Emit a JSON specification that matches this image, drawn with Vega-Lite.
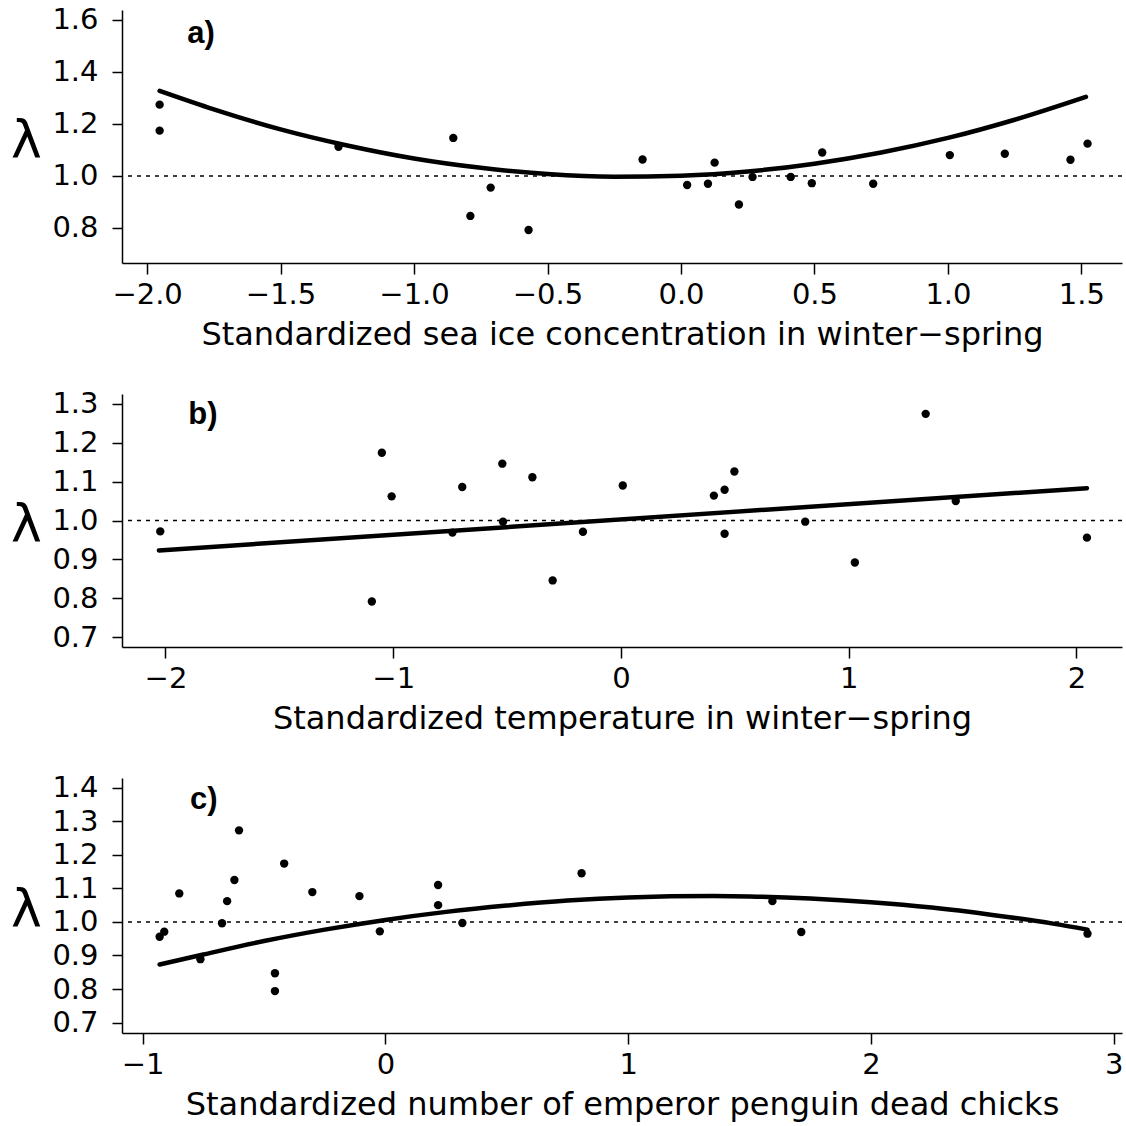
{
  "$schema": "https://vega.github.io/schema/vega-lite/v6.json",
  "background": "white",
  "padding": {"left": 10, "top": 5, "right": 0, "bottom": 5},
  "bounds": "flush",
  "spacing": 131,
  "datasets": {
    "pa": [
      {"x": -1.953, "lambda": 1.274}, {"x": -1.953, "lambda": 1.174}, {"x": -1.283, "lambda": 1.112},
      {"x": -0.853, "lambda": 1.146}, {"x": -0.789, "lambda": 0.846}, {"x": -0.713, "lambda": 0.955},
      {"x": -0.571, "lambda": 0.792}, {"x": -0.144, "lambda": 1.063}, {"x": 0.023, "lambda": 0.965},
      {"x": 0.101, "lambda": 0.970}, {"x": 0.126, "lambda": 1.051}, {"x": 0.217, "lambda": 0.890},
      {"x": 0.268, "lambda": 0.996}, {"x": 0.411, "lambda": 0.996}, {"x": 0.490, "lambda": 0.972},
      {"x": 0.529, "lambda": 1.090}, {"x": 0.720, "lambda": 0.970}, {"x": 1.007, "lambda": 1.080},
      {"x": 1.213, "lambda": 1.085}, {"x": 1.459, "lambda": 1.062}, {"x": 1.523, "lambda": 1.124}
    ],
    "ca": [
      {"x": -1.953, "lambda": 1.327}, {"x": -1.75, "lambda": 1.256}, {"x": -1.5, "lambda": 1.179},
      {"x": -1.25, "lambda": 1.117}, {"x": -1.0, "lambda": 1.067}, {"x": -0.75, "lambda": 1.031},
      {"x": -0.5, "lambda": 1.007}, {"x": -0.25, "lambda": 0.997}, {"x": 0.0, "lambda": 1.001},
      {"x": 0.25, "lambda": 1.017}, {"x": 0.5, "lambda": 1.047}, {"x": 0.75, "lambda": 1.090},
      {"x": 1.0, "lambda": 1.146}, {"x": 1.25, "lambda": 1.216}, {"x": 1.517, "lambda": 1.304}
    ],
    "pb": [
      {"x": -2.023, "lambda": 0.972}, {"x": -1.094, "lambda": 0.792}, {"x": -1.050, "lambda": 1.174},
      {"x": -1.007, "lambda": 1.062}, {"x": -0.740, "lambda": 0.969}, {"x": -0.697, "lambda": 1.086},
      {"x": -0.521, "lambda": 1.146}, {"x": -0.518, "lambda": 0.997}, {"x": -0.389, "lambda": 1.111},
      {"x": -0.300, "lambda": 0.846}, {"x": -0.167, "lambda": 0.971}, {"x": 0.008, "lambda": 1.090},
      {"x": 0.408, "lambda": 1.064}, {"x": 0.455, "lambda": 1.079}, {"x": 0.455, "lambda": 0.966},
      {"x": 0.498, "lambda": 1.126}, {"x": 0.809, "lambda": 0.997}, {"x": 1.027, "lambda": 0.892},
      {"x": 1.338, "lambda": 1.274}, {"x": 1.470, "lambda": 1.050}, {"x": 2.046, "lambda": 0.956}
    ],
    "cb": [
      {"x": -2.029, "lambda": 0.923}, {"x": 2.046, "lambda": 1.083}
    ],
    "pc": [
      {"x": -0.930, "lambda": 0.956}, {"x": -0.911, "lambda": 0.971}, {"x": -0.849, "lambda": 1.085},
      {"x": -0.762, "lambda": 0.889}, {"x": -0.673, "lambda": 0.996}, {"x": -0.652, "lambda": 1.062},
      {"x": -0.622, "lambda": 1.125}, {"x": -0.603, "lambda": 1.273}, {"x": -0.455, "lambda": 0.847},
      {"x": -0.455, "lambda": 0.794}, {"x": -0.417, "lambda": 1.174}, {"x": -0.301, "lambda": 1.089},
      {"x": -0.107, "lambda": 1.077}, {"x": -0.023, "lambda": 0.972}, {"x": 0.217, "lambda": 1.110},
      {"x": 0.217, "lambda": 1.050}, {"x": 0.317, "lambda": 0.997}, {"x": 0.808, "lambda": 1.145},
      {"x": 1.594, "lambda": 1.062}, {"x": 1.713, "lambda": 0.970}, {"x": 2.892, "lambda": 0.965}
    ],
    "cc": [
      {"x": -0.930, "lambda": 0.873}, {"x": -0.75, "lambda": 0.903}, {"x": -0.5, "lambda": 0.943},
      {"x": -0.25, "lambda": 0.977}, {"x": 0.0, "lambda": 1.006}, {"x": 0.25, "lambda": 1.030},
      {"x": 0.5, "lambda": 1.049}, {"x": 0.75, "lambda": 1.064}, {"x": 1.0, "lambda": 1.073},
      {"x": 1.35, "lambda": 1.077}, {"x": 1.5, "lambda": 1.076}, {"x": 1.75, "lambda": 1.070},
      {"x": 2.0, "lambda": 1.059}, {"x": 2.25, "lambda": 1.043}, {"x": 2.5, "lambda": 1.021},
      {"x": 2.75, "lambda": 0.995}, {"x": 2.892, "lambda": 0.977}
    ],
    "ref": [{"lambda": 1.0}],
    "la": [{"x": -1.85, "lambda": 1.545, "label": "a)"}],
    "lb": [{"x": -1.90, "lambda": 1.271, "label": "b)"}],
    "lc": [{"x": -0.805, "lambda": 1.363, "label": "c)"}]
  },
  "vconcat": [
    {
      "width": 1000,
      "height": 253,
      "layer": [
        {
          "data": {"name": "ref"},
          "mark": {"type": "rule", "color": "black", "strokeWidth": 1.5, "strokeDash": [4, 5]},
          "encoding": {"y": {"field": "lambda", "type": "quantitative", "scale": {"domain": [0.665, 1.638], "nice": false, "zero": false},
            "axis": {"title": "λ", "values": [0.8, 1.0, 1.2, 1.4, 1.6], "tickCount": 30, "format": ".1f", "titleY": 130, "labelOverlap": false}}}
        },
        {
          "data": {"name": "ca"},
          "mark": {"type": "line", "color": "black", "strokeWidth": 4.5, "interpolate": "monotone", "strokeCap": "round"},
          "encoding": {
            "x": {"field": "x", "type": "quantitative", "scale": {"domain": [-2.094, 1.652], "nice": false, "zero": false},
              "axis": {"title": "Standardized sea ice concentration in winter−spring", "values": [-2, -1.5, -1, -0.5, 0, 0.5, 1, 1.5], "tickCount": 30, "format": ".1f", "labelOverlap": false}},
            "y": {"field": "lambda", "type": "quantitative"}
          }
        },
        {
          "data": {"name": "pa"},
          "mark": {"type": "point", "shape": "circle", "filled": true, "color": "black", "opacity": 1, "size": 70},
          "encoding": {
            "x": {"field": "x", "type": "quantitative"},
            "y": {"field": "lambda", "type": "quantitative"}
          }
        },
        {
          "data": {"name": "la"},
          "mark": {"type": "text", "align": "left", "baseline": "middle", "font": "Liberation Sans", "fontWeight": "bold", "fontSize": 31, "color": "black"},
          "encoding": {
            "x": {"field": "x", "type": "quantitative"},
            "y": {"field": "lambda", "type": "quantitative"},
            "text": {"field": "label"}
          }
        }
      ]
    },
    {
      "width": 1000,
      "height": 253,
      "layer": [
        {
          "data": {"name": "ref"},
          "mark": {"type": "rule", "color": "black", "strokeWidth": 1.5, "strokeDash": [4, 5]},
          "encoding": {"y": {"field": "lambda", "type": "quantitative", "scale": {"domain": [0.675, 1.325], "nice": false, "zero": false},
            "axis": {"title": "λ", "values": [0.7, 0.8, 0.9, 1.0, 1.1, 1.2, 1.3], "tickCount": 30, "format": ".1f", "titleY": 130, "labelOverlap": false}}}
        },
        {
          "data": {"name": "cb"},
          "mark": {"type": "line", "color": "black", "strokeWidth": 4.5, "strokeCap": "round"},
          "encoding": {
            "x": {"field": "x", "type": "quantitative", "scale": {"domain": [-2.191, 2.2], "nice": false, "zero": false},
              "axis": {"title": "Standardized temperature in winter−spring", "values": [-2, -1, 0, 1, 2], "tickCount": 30, "format": "d", "labelOverlap": false}},
            "y": {"field": "lambda", "type": "quantitative"}
          }
        },
        {
          "data": {"name": "pb"},
          "mark": {"type": "point", "shape": "circle", "filled": true, "color": "black", "opacity": 1, "size": 70},
          "encoding": {
            "x": {"field": "x", "type": "quantitative"},
            "y": {"field": "lambda", "type": "quantitative"}
          }
        },
        {
          "data": {"name": "lb"},
          "mark": {"type": "text", "align": "left", "baseline": "middle", "font": "Liberation Sans", "fontWeight": "bold", "fontSize": 31, "color": "black"},
          "encoding": {
            "x": {"field": "x", "type": "quantitative"},
            "y": {"field": "lambda", "type": "quantitative"},
            "text": {"field": "label"}
          }
        }
      ]
    },
    {
      "width": 1000,
      "height": 255,
      "layer": [
        {
          "data": {"name": "ref"},
          "mark": {"type": "rule", "color": "black", "strokeWidth": 1.5, "strokeDash": [4, 5]},
          "encoding": {"y": {"field": "lambda", "type": "quantitative", "scale": {"domain": [0.669, 1.429], "nice": false, "zero": false},
            "axis": {"title": "λ", "values": [0.7, 0.8, 0.9, 1.0, 1.1, 1.2, 1.3, 1.4], "tickCount": 30, "format": ".1f", "titleY": 131, "labelOverlap": false}}}
        },
        {
          "data": {"name": "cc"},
          "mark": {"type": "line", "color": "black", "strokeWidth": 4.5, "interpolate": "monotone", "strokeCap": "round"},
          "encoding": {
            "x": {"field": "x", "type": "quantitative", "scale": {"domain": [-1.085, 3.034], "nice": false, "zero": false},
              "axis": {"title": "Standardized number of emperor penguin dead chicks", "values": [-1, 0, 1, 2, 3], "tickCount": 30, "format": "d", "labelOverlap": false}},
            "y": {"field": "lambda", "type": "quantitative"}
          }
        },
        {
          "data": {"name": "pc"},
          "mark": {"type": "point", "shape": "circle", "filled": true, "color": "black", "opacity": 1, "size": 70},
          "encoding": {
            "x": {"field": "x", "type": "quantitative"},
            "y": {"field": "lambda", "type": "quantitative"}
          }
        },
        {
          "data": {"name": "lc"},
          "mark": {"type": "text", "align": "left", "baseline": "middle", "font": "Liberation Sans", "fontWeight": "bold", "fontSize": 31, "color": "black"},
          "encoding": {
            "x": {"field": "x", "type": "quantitative"},
            "y": {"field": "lambda", "type": "quantitative"},
            "text": {"field": "label"}
          }
        }
      ]
    }
  ],
  "config": {
    "view": {"stroke": null},
    "axis": {
      "grid": false,
      "domainColor": "black",
      "domainWidth": 1.5,
      "tickColor": "black",
      "tickWidth": 1.5,
      "labelColor": "black",
      "labelFont": "DejaVu Sans",
      "labelFontSize": 29,
      "labelOverlap": false,
      "labelFlush": false,
      "titleColor": "black",
      "titleFont": "DejaVu Sans",
      "titleFontWeight": "normal"
    },
    "axisX": {
      "tickSize": 11,
      "labelBaseline": "alphabetic",
      "labelPadding": 29,
      "titleFontSize": 32,
      "titleBaseline": "alphabetic",
      "titleY": 81,
      "titleAnchor": "middle"
    },
    "axisY": {
      "tickSize": 10,
      "labelPadding": 14,
      "labelBaseline": "middle",
      "titleAngle": 0,
      "titleFontSize": 52,
      "titleAlign": "center",
      "titleBaseline": "middle",
      "titleX": -96
    }
  }
}
